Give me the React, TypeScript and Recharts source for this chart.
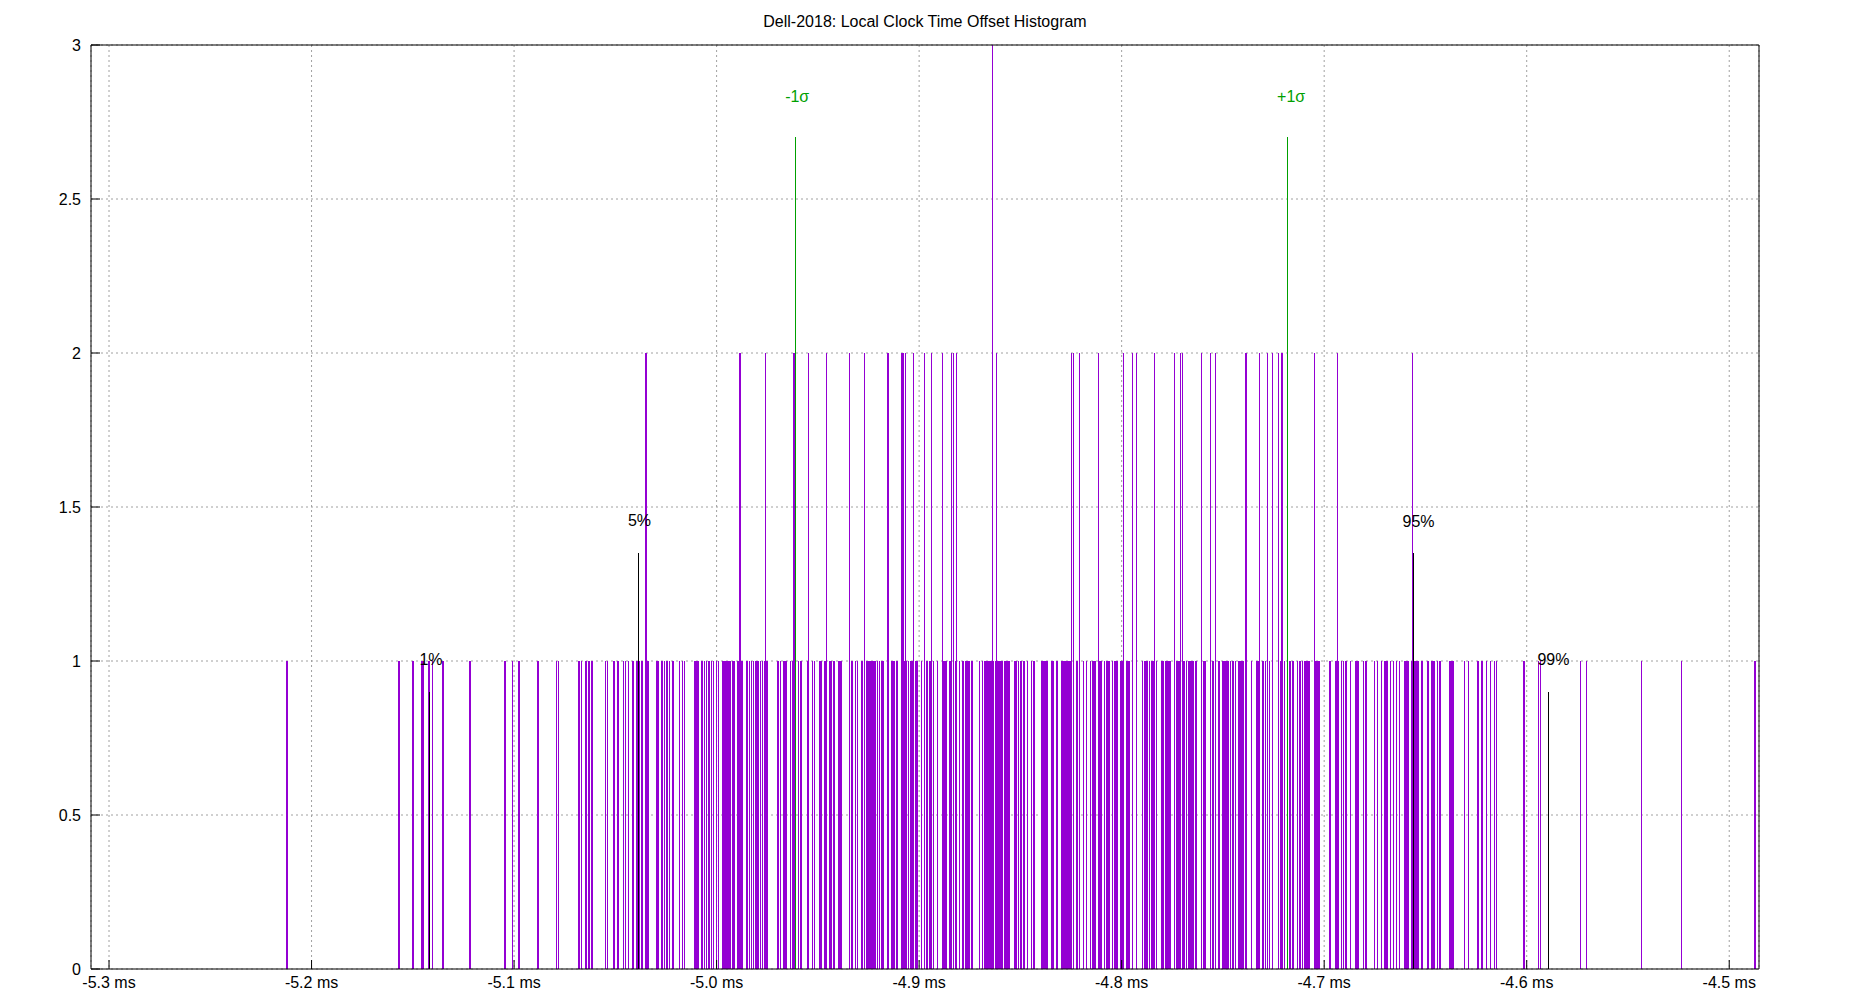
import React from "react";
import { BarChart, Bar, XAxis, YAxis, CartesianGrid, ReferenceLine, ReferenceDot } from "recharts";

// offsets in microseconds, one sample each
const onesUs = [
  -5212.1, -5156.8, -5149.9, -5145.5, -5144.8, -5142.0, -5140.1, -5135.1, -5121.8, -5104.5,
  -5100.6, -5097.6, -5088.2, -5078.9, -5077.9, -5067.9, -5066.7, -5064.5, -5063.0, -5061.5,
  -5054.8, -5054.0, -5050.7, -5048.6, -5046.1, -5044.8, -5043.6, -5041.2, -5039.7, -5039.2,
  -5038.5, -5038.1, -5037.2, -5036.6, -5034.8, -5034.3, -5033.8, -5029.4, -5028.5, -5026.9,
  -5025.6, -5024.4, -5023.1, -5021.5, -5018.2, -5016.9, -5015.7, -5010.7, -5010.0, -5009.1,
  -5007.6, -5006.8, -5005.9, -5004.8, -5003.8, -5002.5, -5001.5, -5000.2, -4999.1, -4996.9,
  -4996.4, -4995.9, -4995.4, -4994.6, -4994.1, -4993.6, -4993.1, -4992.3, -4991.7, -4991.0,
  -4989.4, -4988.7, -4988.2, -4987.5, -4984.9, -4983.9, -4982.8, -4981.8, -4980.7, -4980.2,
  -4979.7, -4979.2, -4978.2, -4977.2, -4976.2, -4975.1,
  -4969.7, -4968.4, -4967.0, -4966.4, -4965.7, -4963.6, -4962.4, -4959.4, -4958.7, -4958.1,
  -4955.1, -4954.5, -4952.8, -4951.8, -4949.0, -4948.4, -4946.7, -4946.2, -4945.6, -4944.1,
  -4943.5, -4942.0, -4939.7, -4939.0, -4938.4, -4934.4, -4933.1, -4931.5, -4930.3, -4928.5,
  -4927.9, -4927.2, -4926.5, -4925.9, -4925.2, -4924.6, -4923.9, -4923.2, -4922.3, -4921.6,
  -4920.6, -4919.5, -4918.7, -4917.8, -4915.7, -4913.7, -4913.1, -4912.4, -4911.1, -4910.5,
  -4908.7, -4908.1, -4907.4, -4906.7, -4906.1, -4905.1, -4904.4, -4903.8, -4903.1, -4902.5,
  -4901.8, -4901.1, -4898.9, -4897.6, -4896.1, -4894.9, -4894.3, -4893.6, -4892.8, -4890.8,
  -4888.4, -4887.7, -4887.0, -4886.4, -4884.7, -4884.1, -4883.4, -4882.8, -4882.1, -4881.4,
  -4880.1, -4878.5, -4877.9, -4877.2, -4876.5, -4875.9, -4875.2, -4873.9, -4870.1, -4868.6,
  -4867.5, -4866.4, -4865.7, -4865.0, -4864.4, -4863.1, -4862.4, -4861.7, -4861.1, -4860.4,
  -4859.8, -4859.0, -4857.9, -4857.2, -4856.6, -4855.9, -4855.3, -4852.8, -4852.1, -4850.8,
  -4849.7, -4848.5, -4847.9, -4846.4, -4844.6, -4843.3, -4839.3, -4838.7, -4838.0, -4837.3,
  -4836.7, -4834.4,
  -4833.6, -4831.9, -4829.8, -4829.1, -4828.5, -4827.8, -4827.2, -4826.5, -4825.8, -4825.2,
  -4824.5, -4822.4, -4821.7, -4821.1, -4820.4, -4818.8, -4817.5, -4815.2, -4814.5, -4813.9,
  -4813.2, -4811.4, -4810.7, -4810.0, -4808.5, -4807.2, -4806.5, -4805.9, -4804.6, -4803.6,
  -4802.9, -4802.3, -4800.3, -4799.6, -4799.0, -4797.3, -4796.3, -4795.0, -4789.8, -4788.8,
  -4788.1, -4787.5, -4786.2, -4785.0, -4784.4, -4782.9, -4780.3, -4779.6, -4778.3, -4777.6,
  -4777.0, -4776.3, -4775.7, -4774.0, -4772.7, -4772.0, -4771.4, -4770.6, -4769.4, -4768.8,
  -4768.1, -4766.8, -4766.1, -4765.5, -4764.8, -4763.2, -4760.9, -4759.5, -4758.8, -4756.5,
  -4755.9, -4755.2, -4754.6, -4753.9, -4753.2, -4751.9, -4749.9, -4749.3, -4748.6, -4748.0,
  -4747.3, -4746.3, -4745.0, -4743.7, -4742.1, -4741.4, -4740.7, -4740.1, -4739.4, -4738.8,
  -4738.1, -4735.8, -4733.2, -4732.6, -4731.9, -4730.4, -4729.8, -4729.1, -4728.4, -4727.8,
  -4727.1, -4725.3, -4723.0, -4722.4, -4721.7, -4721.0, -4720.4, -4719.7, -4718.1, -4716.8,
  -4715.6, -4715.0, -4713.2, -4711.9, -4710.7, -4709.4, -4708.5, -4707.5, -4704.9, -4704.2,
  -4703.5, -4702.9, -4702.2,
  -4697.1, -4694.1, -4693.5, -4692.8, -4691.5, -4690.4, -4689.2, -4686.9, -4684.3, -4683.6,
  -4683.0, -4680.4, -4679.7, -4679.0, -4675.1, -4673.8, -4671.8, -4670.2, -4669.5, -4668.9,
  -4667.2, -4665.9, -4664.3, -4662.9, -4660.2, -4659.6, -4658.9, -4658.3, -4656.9, -4655.3,
  -4654.7, -4654.0, -4653.3, -4651.7, -4648.7, -4647.1, -4646.4, -4645.8, -4644.1, -4642.8,
  -4638.2, -4637.6, -4636.9, -4636.4, -4630.7, -4628.7, -4624.1, -4622.1, -4619.7, -4617.9,
  -4615.9, -4614.9, -4601.3, -4594.1, -4593.1, -4573.4, -4570.5, -4543.4, -4523.6, -4487.3,
];

// offsets with two samples
const twosUs = [
  -5034.9, -4988.5, -4975.7, -4961.8, -4954.5, -4945.6, -4934.3, -4926.9, -4915.4, -4908.4,
  -4907.9, -4906.6, -4902.6, -4897.2, -4893.8, -4888.3, -4883.9, -4883.1, -4881.4, -4861.7,
  -4824.7, -4823.9, -4820.8, -4811.4, -4799.0, -4794.6, -4792.6, -4783.8, -4773.9, -4770.9,
  -4770.0, -4760.6, -4756.1, -4753.6, -4739.0, -4738.2, -4731.9, -4728.0, -4725.5, -4722.6,
  -4721.1, -4720.6, -4704.7, -4693.4, -4656.4,
];

// offsets with three samples
const threesUs = [-4863.6];

const markerLabels = ["1%", "5%", "-1σ", "+1σ", "95%", "99%"];
const markerUs = [-5141.6, -5038.4, -4960.9, -4718.1, -4655.8, -4589.2];
const markerHeights = [0.9, 1.35, 2.7, 2.7, 1.35, 0.9];
const markerLabelUs = [-5141.0, -5038.1, -4960.2, -4716.3, -4653.4, -4586.8];
const markerLabelY = [1.005, 1.456, 2.832, 2.832, 1.455, 1.005];
const markerColors = ["#000000", "#000000", "#00a000", "#00a000", "#000000", "#000000"];

const xTicks = [-5.3, -5.2, -5.1, -5.0, -4.9, -4.8, -4.7, -4.6, -4.5];
const yTicks = [0, 0.5, 1, 1.5, 2, 2.5, 3];
const xDomain = [-5.3089, -4.4853];

const near = (list: number[], u: number) => list.some((t) => Math.abs(t - u) < 0.5);
const singles = onesUs.filter((u) => !near(twosUs, u) && !near(threesUs, u));

const histData = [
  ...singles.map((u) => ({ x: u / 1000, count: 1 })),
  ...twosUs.map((u) => ({ x: u / 1000, count: 2 })),
  ...threesUs.map((u) => ({ x: u / 1000, count: 3 })),
].sort((a, b) => a.x - b.x);

const markers = markerLabels.map((label, i) => ({
  label,
  x: markerUs[i] / 1000,
  h: markerHeights[i],
  lx: markerLabelUs[i] / 1000,
  ly: markerLabelY[i],
  color: markerColors[i],
}));

const FONT = '"Liberation Sans", Arial, sans-serif';

function Impulse(props: any) {
  const { x, y, width, height } = props;
  if (x == null || y == null) return null;
  const cx = x + width / 2;
  return (
    <line x1={cx} x2={cx} y1={y} y2={y + height} stroke="#9400d3" strokeWidth={1.3} shapeRendering="crispEdges" />
  );
}

export default function App() {
  return (
    <div style={{ position: "absolute", left: 0, top: 0, width: 1850, height: 1000, background: "#fff", fontFamily: FONT }}>
      <div style={{ position: "absolute", left: 0, top: 13, width: 1850, textAlign: "center", fontSize: 16, color: "#000" }}>
        Dell-2018: Local Clock Time Offset Histogram
      </div>
      <BarChart
        width={1850}
        height={1000}
        data={histData}
        margin={{ top: 0, right: 0, bottom: 0, left: 0 }}
        barGap={0}
        barCategoryGap={0}
        style={{ fontFamily: FONT }}
      >
        <CartesianGrid stroke="#a0a0a0" strokeDasharray="2 3" />
        <XAxis
          type="number"
          dataKey="x"
          domain={xDomain}
          allowDataOverflow
          ticks={xTicks}
          tickFormatter={(v: number) => `${v.toFixed(1)} ms`}
          height={31}
          tickSize={-9}
          tickMargin={17}
          stroke="#000"
          tick={{ fill: "#000", fontSize: 16 }}
        />
        <XAxis
          xAxisId="top"
          orientation="top"
          type="number"
          domain={xDomain}
          allowDataOverflow
          ticks={xTicks}
          height={45}
          tickSize={-9}
          tick={false}
          stroke="#000"
        />
        <YAxis
          type="number"
          domain={[0, 3]}
          ticks={yTicks}
          width={91}
          tickSize={-9}
          tickMargin={19}
          stroke="#000"
          tick={{ fill: "#000", fontSize: 16 }}
        />
        <YAxis
          yAxisId="right"
          orientation="right"
          type="number"
          domain={[0, 3]}
          ticks={yTicks}
          width={91}
          tickSize={-9}
          tick={false}
          stroke="#000"
        />
        <Bar dataKey="count" barSize={2} isAnimationActive={false} shape={Impulse} />
        {markers.map((m) => (
          <ReferenceLine
            key={`l-${m.label}`}
            segment={[{ x: m.x, y: 0 }, { x: m.x, y: m.h }]}
            stroke={m.color}
            strokeWidth={1.2}
            shapeRendering="crispEdges"
          />
        ))}
        {markers.map((m) => (
          <ReferenceDot
            key={`t-${m.label}`}
            x={m.lx}
            y={m.ly}
            r={0}
            fill="none"
            stroke="none"
            label={{ value: m.label, position: "center", fill: m.color, fontSize: 16, fontFamily: FONT }}
          />
        ))}
      </BarChart>
    </div>
  );
}
